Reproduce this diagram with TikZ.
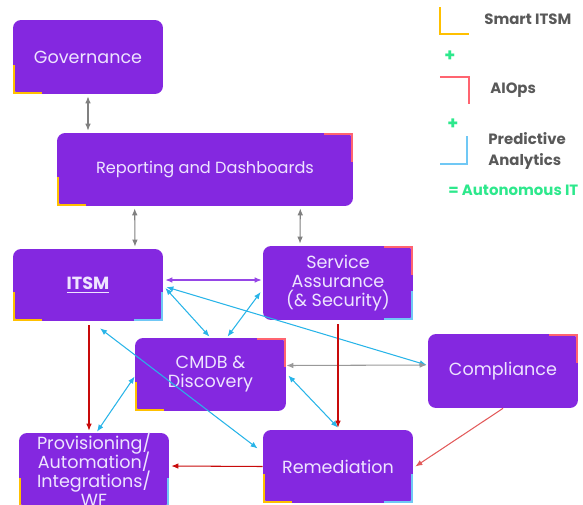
\documentclass[tikz,border=0pt]{standalone}
\usepackage{fontspec}
\setmainfont{Poppins}
\usepackage{tikz}
\usetikzlibrary{arrows.meta,calc}

\definecolor{boxpurple}{RGB}{132,40,224}
\definecolor{boxtext}{RGB}{238,228,255}
\definecolor{smartyellow}{RGB}{255,192,0}
\definecolor{aiopsred}{RGB}{255,100,112}
\definecolor{predblue}{RGB}{112,200,245}
\definecolor{linkblue}{RGB}{40,180,232}
\definecolor{linkred}{RGB}{200,10,10}
\definecolor{linksalmon}{RGB}{226,90,90}
\definecolor{linkpurple}{RGB}{150,70,230}
\definecolor{autogreen}{RGB}{45,232,140}
\definecolor{legendgray}{RGB}{89,89,89}

\newcommand{\tightlines}{\setlength{\lineskiplimit}{-20pt}}

\tikzset{
	block/.style={fill=boxpurple, rounded corners=0.16cm, text=boxtext, align=center, minimum width=3cm, minimum height=1.48cm, inner sep=0pt, font=\fontsize{10}{10.8}\selectfont\tightlines},
	twoway/.style={{Latex[length=4pt,width=3.2pt]}-{Latex[length=4pt,width=3.2pt]}, line width=0.6pt},
	oneway/.style={-{Latex[length=4pt,width=3.2pt]}, line width=0.6pt},
	smart/.style={smartyellow, line width=1.5pt},
	aiops/.style={aiopsred, line width=1.5pt},
	predictive/.style={predblue, line width=1.5pt},
	legendtext/.style={text=legendgray, font=\fontsize{8.5}{11.4}\selectfont\bfseries\tightlines, align=left, inner sep=0pt}
}

\begin{document}
\begin{tikzpicture}[x=0.02cm, y=-0.02cm]
		\useasboundingbox (0,0) rectangle (583,505);
		
		\node[block] (gov) at (88,57) {Governance};
		\node[block, minimum width=5.92cm, minimum height=1.46cm, font=\fontsize{9.2}{10.8}\selectfont] (rep) at (205,169.5) {Reporting and Dashboards};
		\node[block, minimum height=1.44cm] (itsm) at (88,285) {\underline{\textbf{ITSM}}};
		\node[block] (sa) at (338,283) {Service\\Assurance\\(\& Security)};
		\node[block, minimum width=3.02cm, minimum height=1.46cm] (cmdb) at (210.5,374.5) {CMDB \&\\Discovery};
		\node[block] (comp) at (503,371) {Compliance};
		\node[block] (prov) at (94,470) {Provisioning/\\Automation/\\Integrations/\\WF};
		\node[block, minimum height=1.46cm] (rem) at (338,466.5) {Remediation};
		
		\foreach \n in {gov,rep,itsm,cmdb,prov,rem} \draw[smart] ($(\n.south west)+(1.4,-29)$) |- ($(\n.south west)+(29,-1.4)$);
		\foreach \n in {rep,sa,cmdb,comp} \draw[aiops] ($(\n.north east)+(-29,1.4)$) -| ($(\n.north east)+(-1.4,29)$);
		\foreach \n in {itsm,sa,prov,rem} \draw[predictive] ($(\n.south east)+(-1.4,-29)$) |- ($(\n.south east)+(-29,-1.4)$);
		
		\draw[twoway, gray] ($(gov.south)+(0,2)$) -- ($(gov.south |- rep.north)+(0,-2)$);
		\draw[twoway, gray] ($(rep.south west)+(78,2)$) -- ($(itsm.north)+(47,-2)$);
		\draw[twoway, gray] ($(rep.south east)+(-53,2)$) -- ($(sa.north)+(-38,-2)$);
		
		\draw[twoway, linkpurple] ($(itsm.east)+(2,-5)$) -- ($(sa.west)+(-1,-3)$);
		\draw[twoway, linkblue] ($(itsm.east)+(2,3)$) -- ($(cmdb.north)+(-1,-1)$);
		\draw[twoway, linkblue] ($(sa.west)+(-2,9)$) -- ($(cmdb.north)+(17,-1)$);
		\draw[twoway, linkblue] ($(itsm.east)+(3,2)$) -- ($(comp.west)+(-1,-6)$);
		\draw[twoway, linkblue] ($(itsm.south)+(12,7)$) -- ($(rem.west)+(-5,-18)$);
		\draw[twoway, linkblue] ($(cmdb.west)+(0,2)$) -- ($(prov.north)+(3,-1)$);
		\draw[twoway, linkblue] ($(cmdb.east)+(2,1)$) -- ($(rem.north)+(0,-2)$);
		\draw[twoway, gray!80] ($(cmdb.east)+(0,-9)$) -- ($(comp.west)+(-1,-6)$);
		
		\draw[oneway, linkred] ($(sa.south)+(0,4)$) -- ($(rem.north)+(0,-2)$);
		\draw[oneway, linkred] ($(itsm.south)+(1,4)$) -- ($(prov.north)+(-5,-2)$);
		\draw[oneway, linkred] (rem.west) -- ($(prov.east)+(2,-4)$);
		\draw[oneway, linksalmon] (comp.south) -- ($(rem.east)+(2,0)$);
		
		\draw[smart] (440,7) |- (469,34);
		\node[legendtext, anchor=west] (smartlbl) at (484,19) {Smart ITSM};
		\node[text=autogreen, font=\bfseries] (plusone) at (450,56) {+};
		\draw[aiops] (440,77) -| (469,104);
		\node[legendtext, anchor=west] (aiopslbl) at (490,90) {AIOps};
		\node[text=autogreen, font=\bfseries] (plustwo) at (453,124) {+};
		\draw[predictive] (467,136) |- (440,164);
		\node[legendtext, anchor=west] (predlbl) at (488,151) {Predictive\\Analytics};
		\node[text=autogreen, font=\fontsize{8.5}{10}\selectfont\bfseries, anchor=west, inner sep=0pt] (autolbl) at (448,190) {= Autonomous IT};
		
		\end{tikzpicture}
\end{document}
